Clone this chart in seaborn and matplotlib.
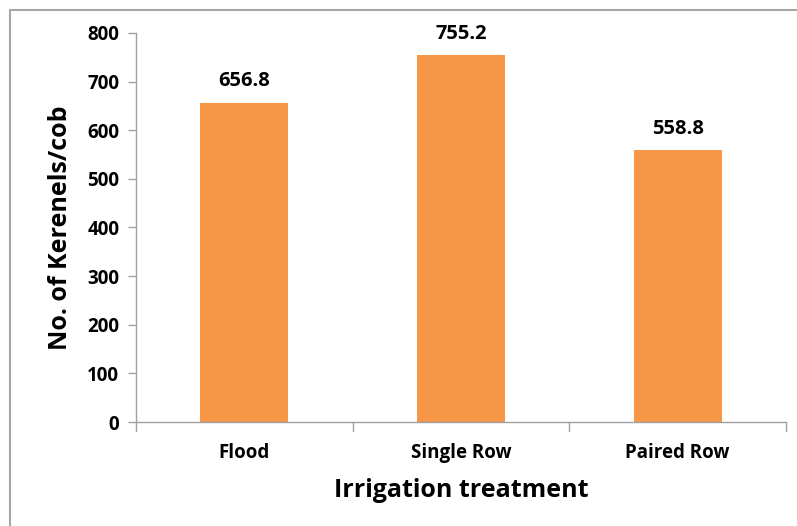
import matplotlib
matplotlib.use("Agg")
import matplotlib.pyplot as plt
import seaborn as sns
import pandas as pd
from matplotlib.lines import Line2D

categories = ["Flood", "Single Row", "Paired Row"]
values = [656.8, 755.2, 558.8]
value_labels = ["656.8", "755.2", "558.8"]
yticks = [0, 100, 200, 300, 400, 500, 600, 700, 800]

sns.set_style("white")
plt.rcParams['font.family'] = ['Open Sans', 'DejaVu Sans']
plt.rcParams['font.weight'] = 'bold'
plt.rcParams['text.color'] = 'black'
plt.rcParams['axes.labelcolor'] = 'black'
plt.rcParams['xtick.color'] = 'black'
plt.rcParams['ytick.color'] = 'black'

df = pd.DataFrame({"cat": categories, "val": values})

W, H = 797, 526
fig = plt.figure(figsize=(W / 100, H / 100), dpi=100)
ax = fig.add_axes([136 / W, 1 - 422 / H, (786 - 136) / W, (422 - 33) / H])

sns.barplot(data=df, x="cat", y="val", ax=ax, color="#F79646", width=0.405,
            saturation=1, edgecolor="none")

ax.set_ylim(0, 800)
ax.set_xlim(-0.5, 2.5)
ax.set_yticks(yticks)
ax.set_yticklabels([str(t) for t in yticks], fontsize=13.5, fontweight='bold')
ax.set_xticks([0, 1, 2])
ax.set_xticklabels(categories, fontsize=13.5, fontweight='bold')
ax.tick_params(axis='x', length=0, pad=15)
ax.tick_params(axis='y', length=6, width=1, color="#A0A0A0", labelcolor="black",
               pad=6, direction='out', left=True)

# category boundary tick marks on x-axis
for xb in [-0.5, 0.5, 1.5, 2.5]:
    ax.plot([xb, xb], [0, -18], color="#A0A0A0", lw=1, clip_on=False)

for s in ["top", "right"]:
    ax.spines[s].set_visible(False)
for s in ["left", "bottom"]:
    ax.spines[s].set_color("#A0A0A0")
    ax.spines[s].set_linewidth(1)

for i, (v, lab) in enumerate(zip(values, value_labels)):
    ax.text(i, v + 23, lab, ha="center", va="bottom", fontsize=14.5, fontweight='bold')

ax.set_xlabel("Irrigation treatment", fontsize=18, fontweight='bold', labelpad=11)
ax.set_ylabel("No. of Kerenels/cob", fontsize=18, fontweight='bold', labelpad=10)

# outer chart border (top and left visible)
fig.add_artist(Line2D([10 / W, 1], [1 - 10 / H, 1 - 10 / H], color="#A6A6A6", lw=1.5, transform=fig.transFigure))
fig.add_artist(Line2D([10 / W, 10 / W], [0, 1 - 10 / H], color="#A6A6A6", lw=1.5, transform=fig.transFigure))

fig.savefig("out.png", dpi=100)
